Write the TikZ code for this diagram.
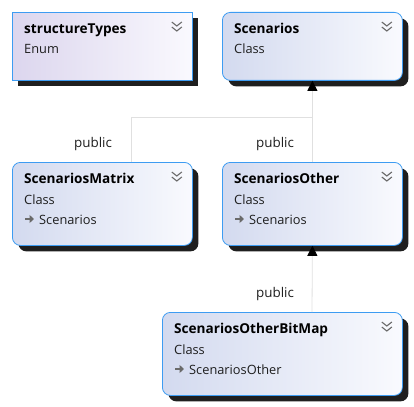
\documentclass[tikz,border=0pt]{standalone}
\usepackage{fontspec}
\setmainfont{Open Sans}
\usetikzlibrary{arrows.meta,calc,shadows}

\definecolor{bordc}{HTML}{3D9CF2}
\definecolor{clsL}{HTML}{D3DAEF}
\definecolor{clsR}{HTML}{F9FAFE}
\definecolor{enmL}{HTML}{DCD6EE}
\definecolor{enmR}{HTML}{FAF9FE}
\definecolor{lnc}{HTML}{E0E0E0}
\definecolor{chev}{HTML}{6A6A6A}
\definecolor{txt}{HTML}{1E1E1E}

\tikzset{
  classbox/.style={draw=bordc, line width=0.8pt, minimum width=180pt, minimum height=68pt,
    anchor=north west, inner sep=0pt, left color=clsL, right color=clsR, rounded corners=8pt,
    drop shadow={shadow xshift=6pt, shadow yshift=-6pt, fill=black!88, opacity=1}},
  enumbox/.style={classbox, rounded corners=0pt, left color=enmL, right color=enmR},
  titletext/.style={anchor=base west, inner sep=0pt, font=\fontsize{13.6}{16}\selectfont\bfseries, text=black},
  subtext/.style={anchor=base west, inner sep=0pt, font=\fontsize{12.8}{15}\selectfont, text=txt},
  labeltext/.style={inner sep=0pt, font=\fontsize{13.4}{16}\selectfont, text=txt},
  conn/.style={draw=lnc, line width=0.8pt},
  inh/.style={conn, -{Triangle[length=10pt, width=10pt, color=black, fill=black]}},
  chevline/.style={draw=chev, line width=1.1pt},
  inharrow/.style={draw=chev, line width=1.9pt, -{Triangle[length=4.5pt, width=8pt]}}
}

\newcommand{\chevicon}[1]{%
  \draw[chevline] ($(#1.north east)+(-21,10)$) -- ($(#1.north east)+(-16,14)$) -- ($(#1.north east)+(-11,10)$);
  \draw[chevline] ($(#1.north east)+(-21,15)$) -- ($(#1.north east)+(-16,19)$) -- ($(#1.north east)+(-11,15)$);
}

\begin{document}
\begin{tikzpicture}[x=1pt, y=-1pt]
\useasboundingbox (0,0) rectangle (414,406);

% boxes
\node[enumbox] (st) at (12,12) {};
\node[classbox] (sc) at (222,12) {};
\node[classbox, minimum height=83pt] (sm) at (12,162) {};
\node[classbox, minimum height=83pt] (so) at (222,162) {};
\node[classbox, minimum width=240pt, minimum height=83pt] (sb) at (162,312) {};

% texts
\node[titletext] (st-t) at ($(st.north west)+(12,21.5)$) {structureTypes};
\node[subtext] (st-k) at ($(st.north west)+(12,42)$) {Enum};

\node[titletext] (sc-t) at ($(sc.north west)+(12,21.5)$) {Scenarios};
\node[subtext] (sc-k) at ($(sc.north west)+(12,42)$) {Class};

\node[titletext] (sm-t) at ($(sm.north west)+(12,21.5)$) {ScenariosMatrix};
\node[subtext] (sm-k) at ($(sm.north west)+(12,42)$) {Class};
\node[subtext] (sm-b) at ($(sm.north west)+(27,62)$) {Scenarios};

\node[titletext] (so-t) at ($(so.north west)+(12,21.5)$) {ScenariosOther};
\node[subtext] (so-k) at ($(so.north west)+(12,42)$) {Class};
\node[subtext] (so-b) at ($(so.north west)+(27,62)$) {Scenarios};

\node[titletext] (sb-t) at ($(sb.north west)+(12,21.5)$) {ScenariosOtherBitMap};
\node[subtext] (sb-k) at ($(sb.north west)+(12,42)$) {Class};
\node[subtext] (sb-b) at ($(sb.north west)+(27,62)$) {ScenariosOther};

% inherited arrows
\foreach \b in {sm,so,sb} {
  \coordinate (\b-a1) at ($(\b.north west)+(13,57)$);
  \coordinate (\b-a2) at ($(\b.north west)+(22,57)$);
  \draw[inharrow] (\b-a1) -- (\b-a2);
}

% chevrons
\chevicon{st}
\chevicon{sc}
\chevicon{sm}
\chevicon{so}
\chevicon{sb}

% connectors
\coordinate (sm-in) at (131.7,162);
\coordinate (j) at (312,117);
\coordinate (sb-in) at (312,312);
\draw[conn] (sm-in) |- (j);
\draw[inh] (so.north) -- (sc.south);
\draw[inh] (sb-in) -- (so.south);

% labels
\node[labeltext] (l1) at (93,144) {public};
\node[labeltext] (l2) at (275,144) {public};
\node[labeltext] (l3) at (275,294) {public};
\end{tikzpicture}
\end{document}
